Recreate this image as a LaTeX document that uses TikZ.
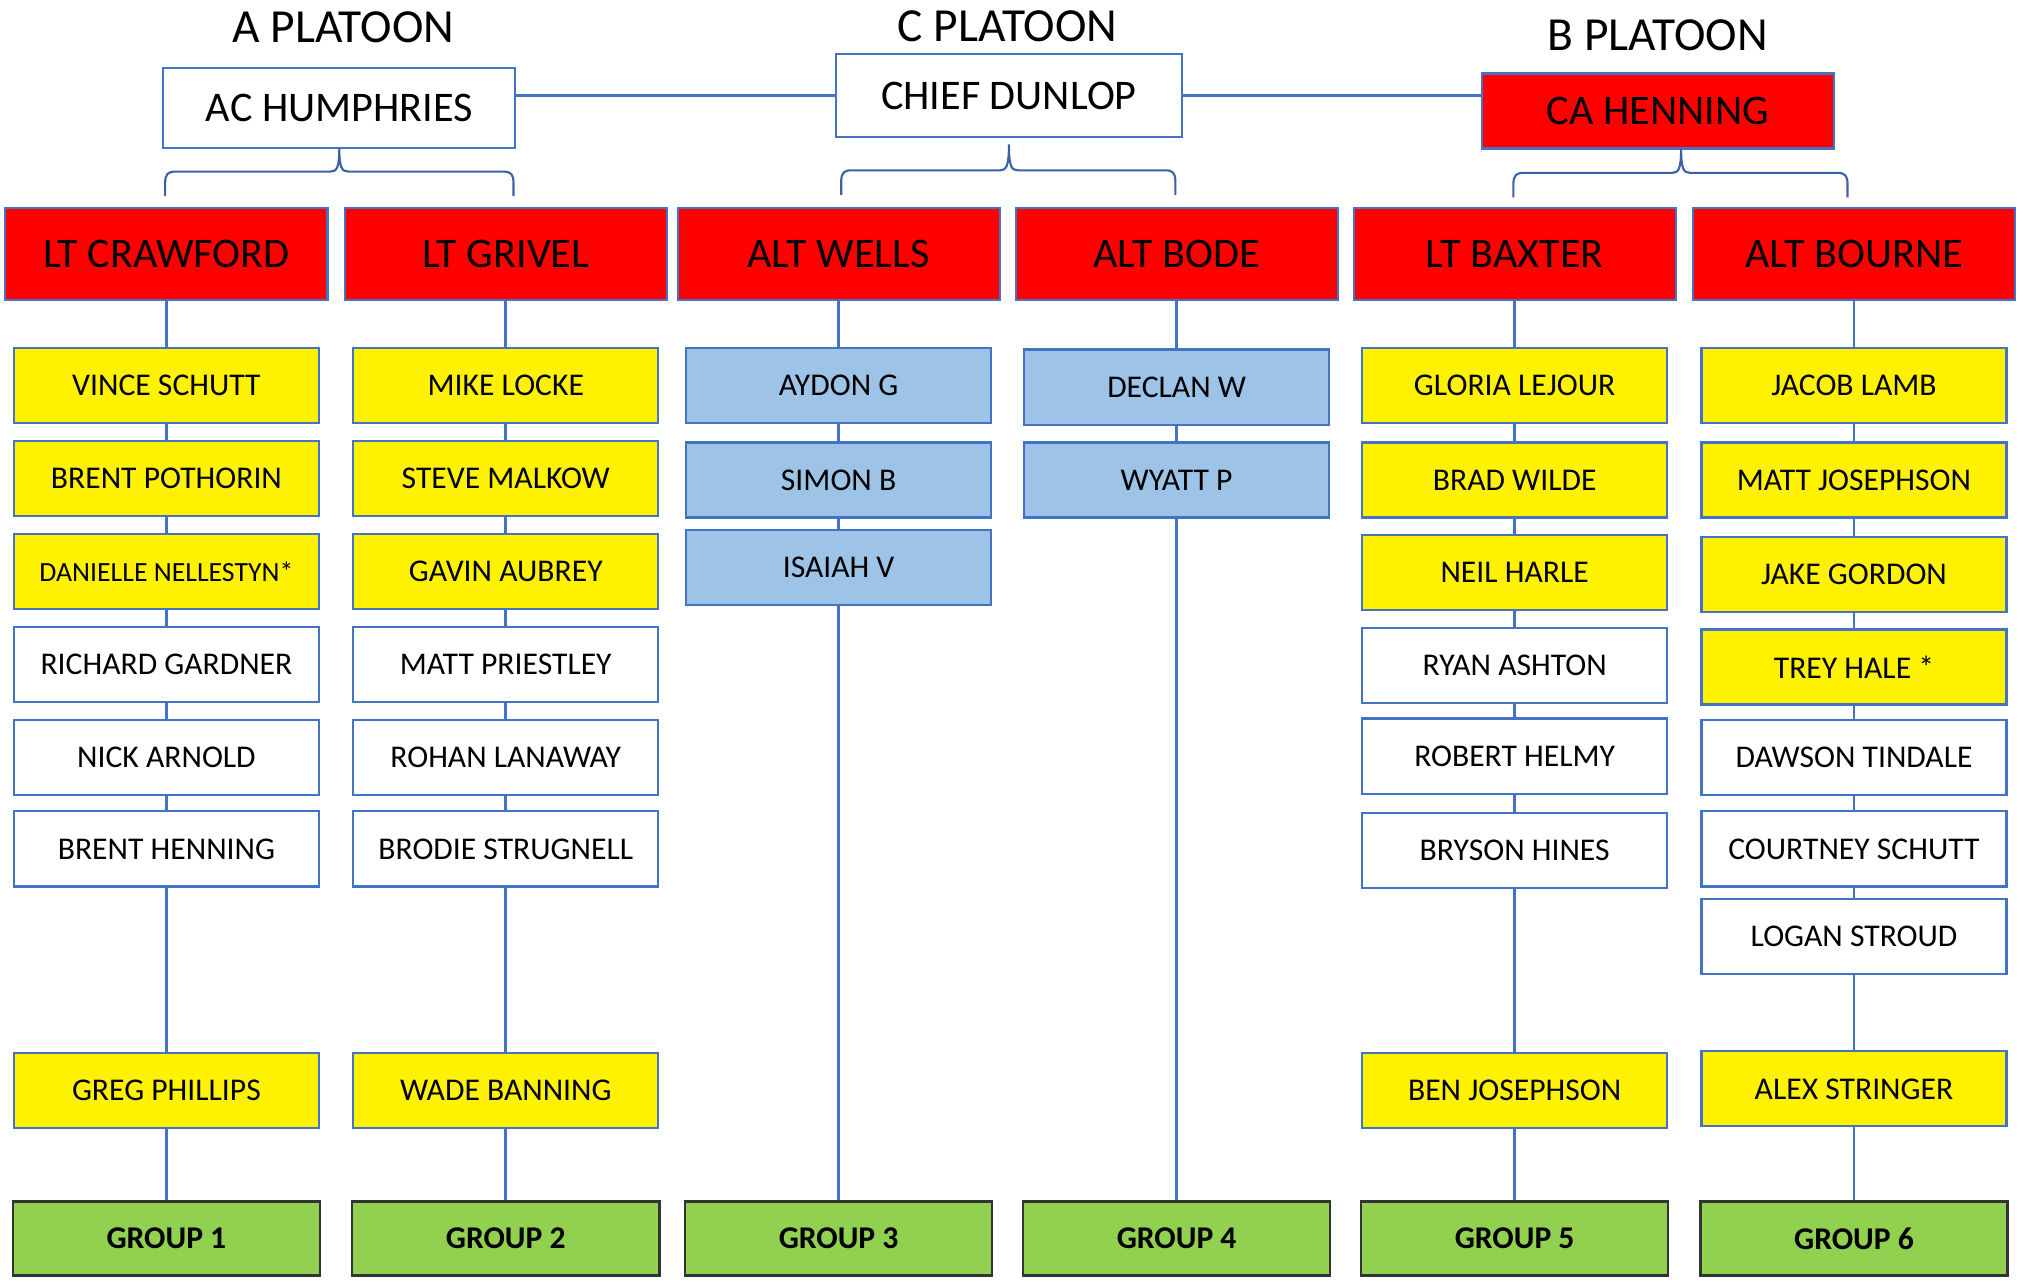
\documentclass[tikz,border=0pt]{standalone}
\usepackage{fontspec}
\setmainfont{Carlito}
\usepackage{tikz}
\definecolor{lineblue}{HTML}{4472C4}
\definecolor{cellblue}{HTML}{9DC3E6}
\definecolor{cellgreen}{HTML}{92D050}

\begin{document}
\begin{tikzpicture}[x=0.129mm, y=-0.129mm,
    conn/.style={lineblue, line width=0.75pt},
    brace/.style={lineblue!85!black, line width=0.6pt},
    title/.style={font=\fontsize{13.5}{15}\selectfont},
    chiefbox/.style={draw=lineblue, line width=0.6pt, fill=white, minimum width=35.2mm, minimum height=8mm, inner sep=0pt, font=\fontsize{12}{14}\selectfont},
    headbox/.style={draw=lineblue, line width=0.6pt, fill=red, minimum width=32.2mm, minimum height=9.2mm, inner sep=0pt, font=\fontsize{12}{14}\selectfont},
    namebox/.style={draw=lineblue, line width=0.6pt, fill=white, minimum width=30.5mm, minimum height=7.5mm, inner sep=0pt, font=\fontsize{9}{11}\selectfont},
    yellowbox/.style={namebox, fill=yellow},
    bluebox/.style={namebox, fill=cellblue},
    groupbox/.style={draw=black!80, line width=0.7pt, fill=cellgreen, minimum width=30.7mm, minimum height=7.4mm, inner sep=0pt, font=\fontsize{9}{11}\selectfont\bfseries}]
  \useasboundingbox (0,0) rectangle (1568,993);

  % platoon titles and chiefs
  \node[title] (tA) at (266,21) {A PLATOON};
  \node[title] (tC) at (781,20) {C PLATOON};
  \node[title] (tB) at (1285,27) {B PLATOON};
  \node[chiefbox] (ac) at (263,84) {AC HUMPHRIES};
  \node[chiefbox, minimum width=34.6mm, minimum height=8.3mm] (chief) at (782,74) {CHIEF DUNLOP};
  \node[chiefbox, fill=red, minimum height=7.5mm] (ca) at (1285,86) {CA HENNING};
  \draw[conn] (chief.west) -- (chief.west -| ac.east);
  \draw[conn] (chief.east) -- (chief.east -| ca.west);

  % braces
  \draw[brace] (128,152) -- (128,142) .. controls (128,135) and (130,133) .. (136,133) -- (256,133) .. controls (261,133) and (263,130) .. (263,115) .. controls (263,130) and (265,133) .. (270,133) -- (390,133) .. controls (396,133) and (398,135) .. (398,142) -- (398,152);
  \draw[brace] (652,151) -- (652,141) .. controls (652,134) and (654,132) .. (660,132) -- (775,132) .. controls (780,132) and (782,129) .. (782,112) .. controls (782,129) and (784,132) .. (789,132) -- (903,132) .. controls (909,132) and (911,134) .. (911,141) -- (911,151);
  \draw[brace] (1173,153) -- (1173,143) .. controls (1173,136) and (1175,134) .. (1181,134) -- (1296,134) .. controls (1301,134) and (1303,131) .. (1303,115) .. controls (1303,131) and (1305,134) .. (1310,134) -- (1424,134) .. controls (1430,134) and (1432,136) .. (1432,143) -- (1432,153);

  % red leaders
  \node[headbox] (h1) at (129,197) {LT CRAWFORD};
  \node[headbox] (h2) at (392,197) {LT GRIVEL};
  \node[headbox] (h3) at (650,197) {ALT WELLS};
  \node[headbox] (h4) at (912,197) {ALT BODE};
  \node[headbox] (h5) at (1174,197) {LT BAXTER};
  \node[headbox] (h6) at (1437,197) {ALT BOURNE};

  % column 1
  \node[yellowbox] (a1) at (129,299) {VINCE SCHUTT};
  \node[yellowbox] (a2) at (129,371) {BRENT POTHORIN};
  \node[yellowbox, font=\fontsize{7.9}{9}\selectfont] (a3) at (129,443) {DANIELLE NELLESTYN*};
  \node[namebox] (a4) at (129,515) {RICHARD GARDNER};
  \node[namebox] (a5) at (129,587) {NICK ARNOLD};
  \node[namebox] (a6) at (129,658) {BRENT HENNING};
  \node[yellowbox] (a7) at (129,845) {GREG PHILLIPS};
  \node[groupbox] (g1) at (129,960) {GROUP 1};
  \draw[conn] (h1) -- (a1);
  \draw[conn] (a1) -- (a2);
  \draw[conn] (a2) -- (a3);
  \draw[conn] (a3) -- (a4);
  \draw[conn] (a4) -- (a5);
  \draw[conn] (a5) -- (a6);
  \draw[conn] (a6) -- (a7);
  \draw[conn] (a7) -- (g1);

  % column 2
  \node[yellowbox] (b1) at (392,299) {MIKE LOCKE};
  \node[yellowbox] (b2) at (392,371) {STEVE MALKOW};
  \node[yellowbox] (b3) at (392,443) {GAVIN AUBREY};
  \node[namebox] (b4) at (392,515) {MATT PRIESTLEY};
  \node[namebox] (b5) at (392,587) {ROHAN LANAWAY};
  \node[namebox] (b6) at (392,658) {BRODIE STRUGNELL};
  \node[yellowbox] (b7) at (392,845) {WADE BANNING};
  \node[groupbox] (g2) at (392,960) {GROUP 2};
  \draw[conn] (h2) -- (b1);
  \draw[conn] (b1) -- (b2);
  \draw[conn] (b2) -- (b3);
  \draw[conn] (b3) -- (b4);
  \draw[conn] (b4) -- (b5);
  \draw[conn] (b5) -- (b6);
  \draw[conn] (b6) -- (b7);
  \draw[conn] (b7) -- (g2);

  % column 3
  \node[bluebox] (c1) at (650,299) {AYDON G};
  \node[bluebox] (c2) at (650,372) {SIMON B};
  \node[bluebox] (c3) at (650,440) {ISAIAH V};
  \node[groupbox] (g3) at (650,960) {GROUP 3};
  \draw[conn] (h3) -- (c1);
  \draw[conn] (c1) -- (c2);
  \draw[conn] (c2) -- (c3);
  \draw[conn] (c3) -- (g3);

  % column 4
  \node[bluebox] (d1) at (912,300) {DECLAN W};
  \node[bluebox] (d2) at (912,372) {WYATT P};
  \node[groupbox] (g4) at (912,960) {GROUP 4};
  \draw[conn] (h4) -- (d1);
  \draw[conn] (d1) -- (d2);
  \draw[conn] (d2) -- (g4);

  % column 5
  \node[yellowbox] (e1) at (1174,299) {GLORIA LEJOUR};
  \node[yellowbox] (e2) at (1174,372) {BRAD WILDE};
  \node[yellowbox] (e3) at (1174,444) {NEIL HARLE};
  \node[namebox] (e4) at (1174,516) {RYAN ASHTON};
  \node[namebox] (e5) at (1174,586) {ROBERT HELMY};
  \node[namebox] (e6) at (1174,659) {BRYSON HINES};
  \node[yellowbox] (e7) at (1174,845) {BEN JOSEPHSON};
  \node[groupbox] (g5) at (1174,960) {GROUP 5};
  \draw[conn] (h5) -- (e1);
  \draw[conn] (e1) -- (e2);
  \draw[conn] (e2) -- (e3);
  \draw[conn] (e3) -- (e4);
  \draw[conn] (e4) -- (e5);
  \draw[conn] (e5) -- (e6);
  \draw[conn] (e6) -- (e7);
  \draw[conn] (e7) -- (g5);

  % column 6
  \node[yellowbox] (f1) at (1437,299) {JACOB LAMB};
  \node[yellowbox] (f2) at (1437,372) {MATT JOSEPHSON};
  \node[yellowbox] (f3) at (1437,445) {JAKE GORDON};
  \node[yellowbox] (f4) at (1437,517) {TREY HALE *};
  \node[namebox] (f5) at (1437,587) {DAWSON TINDALE};
  \node[namebox] (f6) at (1437,658) {COURTNEY SCHUTT};
  \node[namebox] (f7) at (1437,726) {LOGAN STROUD};
  \node[yellowbox] (f8) at (1437,844) {ALEX STRINGER};
  \node[groupbox] (g6) at (1437,960) {GROUP 6};
  \draw[conn] (h6) -- (f1);
  \draw[conn] (f1) -- (f2);
  \draw[conn] (f2) -- (f3);
  \draw[conn] (f3) -- (f4);
  \draw[conn] (f4) -- (f5);
  \draw[conn] (f5) -- (f6);
  \draw[conn] (f6) -- (f7);
  \draw[conn] (f7) -- (f8);
  \draw[conn] (f8) -- (g6);
\end{tikzpicture}
\end{document}
